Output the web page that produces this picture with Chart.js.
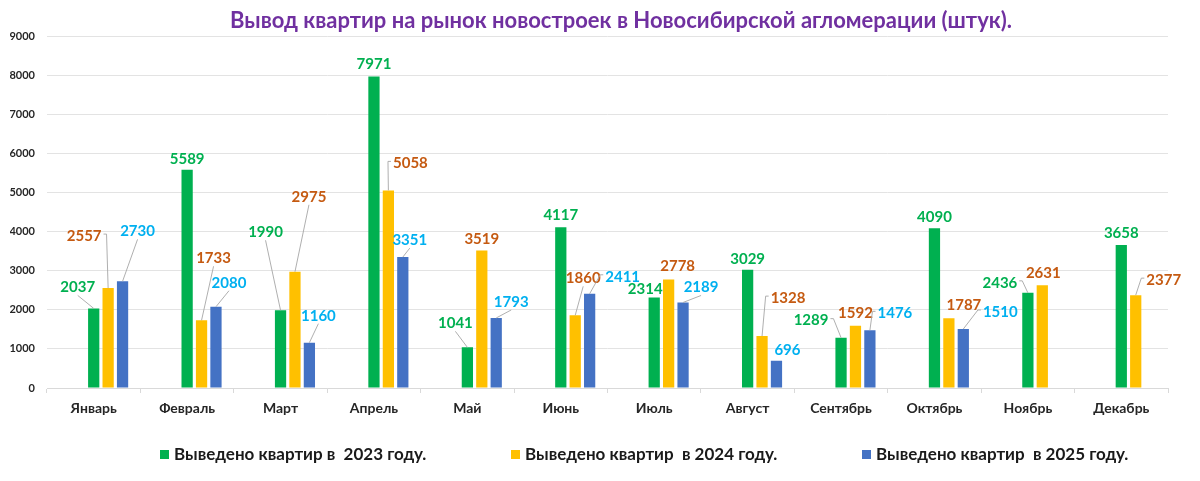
<!DOCTYPE html>
<html>
<head>
<meta charset="utf-8">
<script src="https://cdn.jsdelivr.net/npm/chart.js@4.4.1/dist/chart.umd.min.js"></script>
<style>
  html, body { margin: 0; padding: 0; background: #ffffff; }
  canvas { display: block; }
</style>
</head>
<body>
<canvas id="c" width="1200" height="481"></canvas>
<script>
// ---- data ----
const categories = ['Январь', 'Февраль', 'Март', 'Апрель', 'Май', 'Июнь', 'Июль', 'Август', 'Сентябрь', 'Октябрь', 'Ноябрь', 'Декабрь'];
const values2023 = [2037, 5589, 1990, 7971, 1041, 4117, 2314, 3029, 1289, 4090, 2436, 3658];
const values2024 = [2557, 1733, 2975, 5058, 3519, 1860, 2778, 1328, 1592, 1787, 2631, 2377];
const values2025 = [2730, 2080, 1160, 3351, 1793, 2411, 2189, 696, 1476, 1510, null, null];
const seriesNames = ['Выведено квартир в  2023 году.', 'Выведено квартир  в 2024 году.', 'Выведено квартир  в 2025 году.'];
const spacerSlot = [null, null, null, null, null, null, null, null, null, null, null, null];
const titleText = 'Вывод квартир на рынок новостроек в Новосибирской агломерации (штук).';
const yMin = 0, yMax = 9000, yStep = 1000;

// ---- styles / label placement (dx, dy from bar top, leader line flag) ----
const barColors = ['#00B050', '#FFC000', '#4472C4'];
const labelColors = ['#00B050', '#C55A11', '#00B0F0'];
const labelOffsets = [
  [[-16,-21,1],[0,-11,0],[-15,-78,1],[0,-12,0],[-12,-24,1],[0,-12,0],[-9,-8,0],[0,-11,0],[-30,-17,1],[0,-11,0],[-28,-10,1],[0,-12,0]],
  [[-24,-52,1],[12,-62,1],[14,-75,1],[22,-27,1],[0,-11,0],[8,-37,1],[9,-13,0],[26,-38,1],[0,-13,0],[15,-13,0],[1,-12,0],[28,-15,1]],
  [[15,-50,1],[13,-24,1],[9,-27,1],[7,-17,1],[15,-16,1],[33,-17,1],[18,-15,1],[11,-11,0],[25,-17,1],[37,-17,1],null,null]
];
const FONT = 'Lato';

const titleShift = {
  id: 'titleShift',
  afterLayout(chart) {
    if (chart.titleBlock) { chart.titleBlock.left += 64; }
  }
};

const valueLabels = {
  id: 'valueLabels',
  afterDatasetsDraw(chart) {
    const ctx = chart.ctx;
    ctx.save();
    ctx.font = 'bold 15px ' + FONT;
    ctx.textAlign = 'center';
    ctx.textBaseline = 'middle';
    for (let s = 0; s < 3; s++) {
      const dsIndex = s + 2;
      const meta = chart.getDatasetMeta(dsIndex);
      const data = chart.data.datasets[dsIndex].data;
      meta.data.forEach((bar, i) => {
        const v = data[i];
        if (v === null || v === undefined) return;
        const off = labelOffsets[s][i];
        const cx = bar.x + off[0];
        const cy = bar.y + off[1];
        const txt = String(v);
        const w = ctx.measureText(txt).width;
        if (off[2]) {
          const left = cx - w / 2 - 2, right = cx + w / 2 + 2;
          const bottom = cy + 8;
          ctx.strokeStyle = '#A6A6A6';
          ctx.lineWidth = 0.9;
          ctx.beginPath();
          if (bar.x > right) {
            ctx.moveTo(right, cy - 2);
            ctx.lineTo(right + 3, cy - 2);
          } else if (bar.x < left) {
            ctx.moveTo(left, cy - 2);
            ctx.lineTo(left - 3, cy - 2);
          } else {
            ctx.moveTo(cx, bottom);
          }
          ctx.lineTo(bar.x, bar.y);
          ctx.stroke();
        }
        ctx.fillStyle = labelColors[s];
        ctx.fillText(txt, cx, cy);
      });
    }
    ctx.restore();
  }
};

const customLegend = {
  id: 'customLegend',
  afterDraw(chart) {
    const ctx = chart.ctx;
    ctx.save();
    ctx.font = 'bold 17px ' + FONT;
    ctx.textBaseline = 'middle';
    ctx.textAlign = 'left';
    const y = 455;
    let x = 160;
    for (let s = 0; s < 3; s++) {
      const ds = chart.data.datasets[s + 2];
      ctx.fillStyle = ds.backgroundColor;
      ctx.fillRect(x, y - 5, 9, 9);
      ctx.fillStyle = '#1a1a1a';
      ctx.fillText(ds.label, x + 14, y);
      x += 351;
    }
    ctx.restore();
  }
};

new Chart(document.getElementById('c'), {
  type: 'bar',
  data: {
    labels: categories,
    datasets: [
      { label: '', data: spacerSlot, backgroundColor: 'rgba(0,0,0,0)' },
      { label: '', data: spacerSlot, backgroundColor: 'rgba(0,0,0,0)' },
      { label: seriesNames[0], data: values2023, backgroundColor: barColors[0] },
      { label: seriesNames[1], data: values2024, backgroundColor: barColors[1] },
      { label: seriesNames[2], data: values2025, backgroundColor: barColors[2] }
    ]
  },
  options: {
    responsive: false,
    animation: false,
    devicePixelRatio: 1,
    categoryPercentage: 0.772,
    barPercentage: 0.78,
    layout: { padding: { left: 10, right: 32, top: 0, bottom: 63 } },
    plugins: {
      legend: { display: false },
      tooltip: { enabled: false },
      title: {
        display: true,
        text: titleText,
        color: '#7030A0',
        font: { family: FONT, size: 22, weight: 'bold' },
        padding: { top: 8, bottom: 2 }
      }
    },
    scales: {
      x: {
        grid: { offset: true, drawOnChartArea: false, tickLength: 5, color: '#D9D9D9' },
        border: { color: '#D9D9D9' },
        ticks: { font: { family: FONT, size: 14, weight: 'bold' }, color: '#262626', padding: 7 },
        afterFit(scale) { scale.height = 30; }
      },
      y: {
        min: yMin, max: yMax,
        ticks: {
          stepSize: yStep,
          font: { family: FONT, size: 11, weight: 'bold' },
          color: '#262626',
          padding: 12,
          callback: (value) => String(value)
        },
        grid: { color: '#E3E3E3', drawTicks: false },
        border: { display: false },
        afterFit(scale) { scale.width = 37; }
      }
    }
  },
  plugins: [titleShift, valueLabels, customLegend]
});
</script>
</body>
</html>
